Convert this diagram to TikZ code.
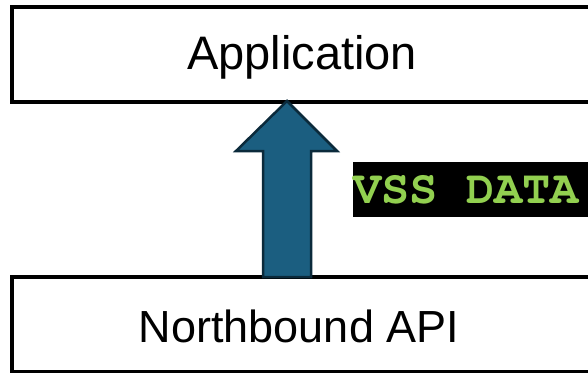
\documentclass[tikz,border=0pt]{standalone}
\usepackage{fontspec}
\setmainfont{Liberation Sans}
\newfontfamily\codefont{TeX Gyre Cursor}
\definecolor{arrowfill}{HTML}{1B5E80}
\definecolor{arrowedge}{HTML}{0B2A3B}
\definecolor{codegreen}{HTML}{92D050}
\tikzset{
  layerbox/.style={draw=black, line width=4pt, fill=white},
  layertext/.style={inner sep=0pt, anchor=base},
  flowarrow/.style={fill=arrowfill, draw=arrowedge, line width=2.5pt, line join=miter},
  tagbox/.style={fill=black, draw=none},
  tagtext/.style={inner sep=0pt, anchor=base west, text=codegreen,
                  font=\codefont\bfseries\fontsize{47}{56}\selectfont}
}
\begin{document}
\begin{tikzpicture}[x=1pt, y=-1pt]
  \useasboundingbox (0,0) rectangle (588,372);
  \clip (0,0) rectangle (588,372);
  % two stacked layers
  \draw[layerbox] (12,7) rectangle (640,102);
  \draw[layerbox] (12,277) rectangle (640,372);
  \node[layertext, font=\fontsize{47}{56}\selectfont] (app) at (302,69) {Application};
  \node[layertext, font=\fontsize{45}{54}\selectfont] (nb) at (299,342) {Northbound API};
  % upward block arrow between the layers
  \draw[flowarrow] (287,101) -- (236,151) -- (263,151) -- (263,277) -- (311,277)
    -- (311,151) -- (337,151) -- cycle;
  % data tag
  \fill[tagbox] (352.7,161.7) rectangle (640,217.3);
  \node[tagtext] (tag) at (353,203) {VSS DATA};
\end{tikzpicture}
\end{document}
